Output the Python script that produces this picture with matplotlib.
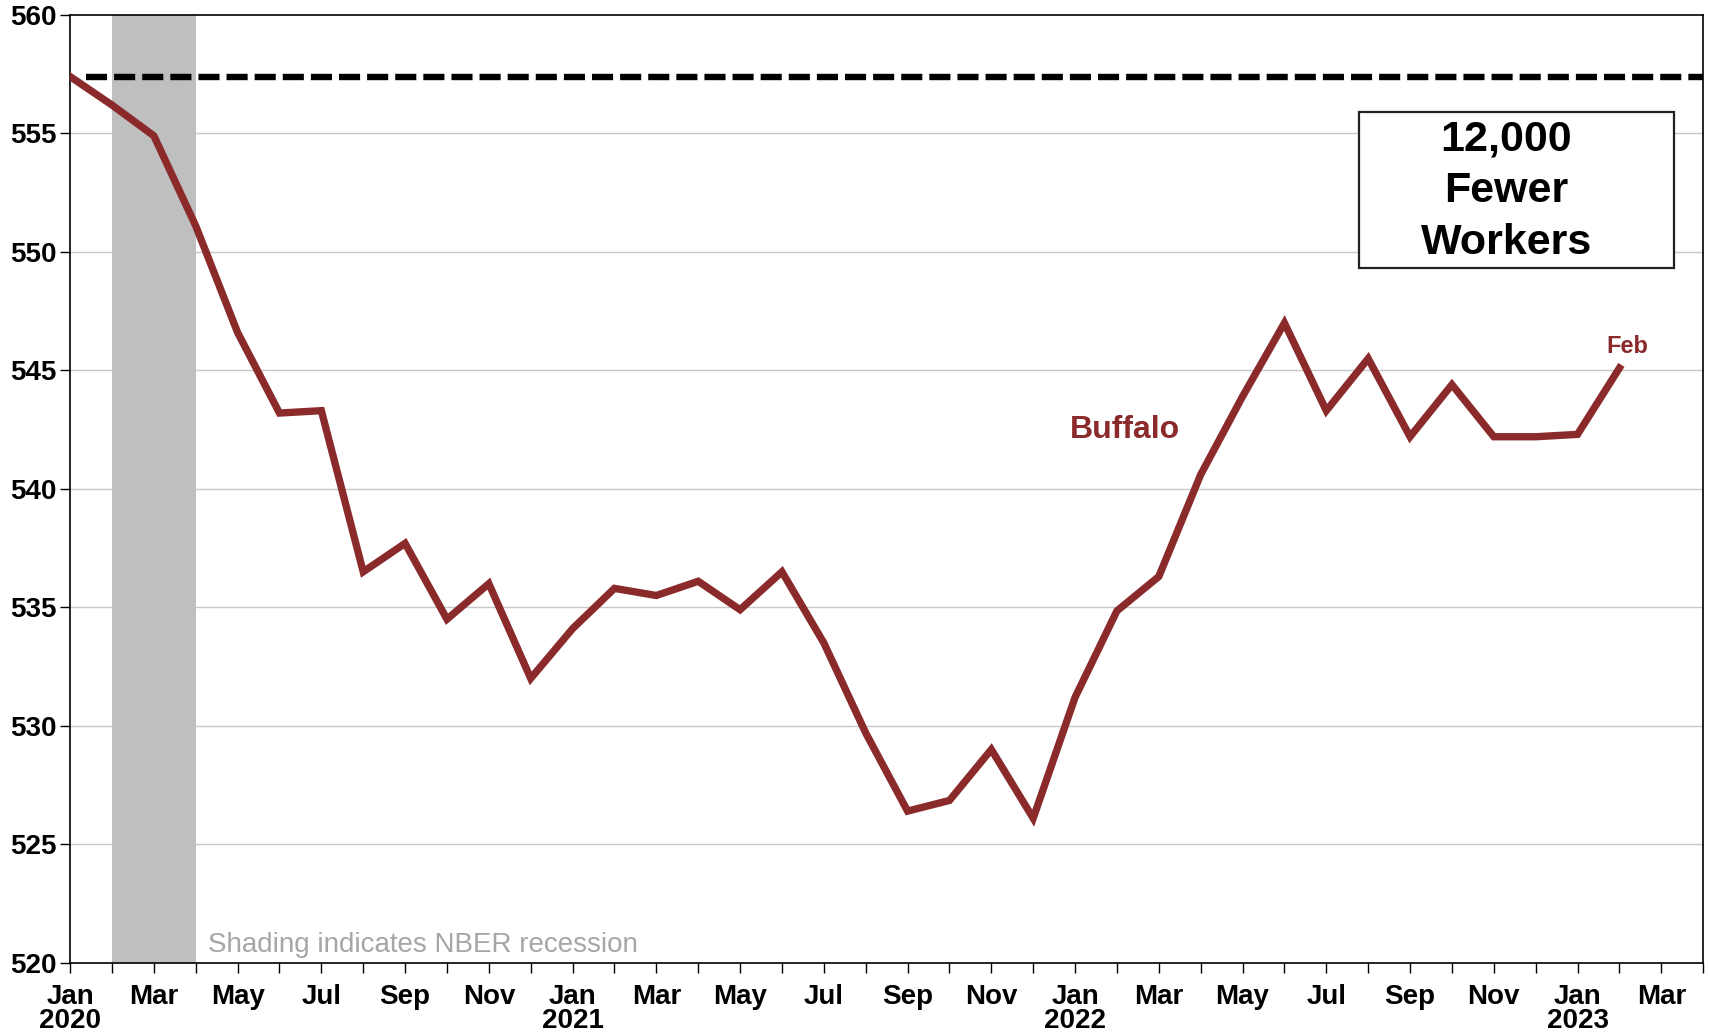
import matplotlib.pyplot as plt
from matplotlib.patches import Rectangle
import numpy as np

plt.rcParams['font.family'] = ['Liberation Sans', 'DejaVu Sans']

# Buffalo nonfarm employment, thousands, Jan 2020 - Feb 2023
months = ['2020-01', '2020-02', '2020-03', '2020-04', '2020-05', '2020-06',
          '2020-07', '2020-08', '2020-09', '2020-10', '2020-11', '2020-12',
          '2021-01', '2021-02', '2021-03', '2021-04', '2021-05', '2021-06',
          '2021-07', '2021-08', '2021-09', '2021-10', '2021-11', '2021-12',
          '2022-01', '2022-02', '2022-03', '2022-04', '2022-05', '2022-06',
          '2022-07', '2022-08', '2022-09', '2022-10', '2022-11', '2022-12',
          '2023-01', '2023-02']
buffalo = [557.4, 556.2, 554.9, 551.1, 546.6, 543.2,
           543.3, 536.5, 537.7, 534.5, 536.0, 532.0,
           534.1, 535.8, 535.5, 536.1, 534.9, 536.5,
           533.5, 529.7, 526.4, 526.85, 529.0, 526.1,
           531.2, 534.85, 536.3, 540.6, 543.9, 547.0,
           543.3, 545.5, 542.2, 544.4, 542.2, 542.2,
           542.3, 545.1]
pre_pandemic = 557.4
recession = (1, 3)  # Feb 2020 to Apr 2020, month index

tick_labels = ['Jan\n2020', 'Mar', 'May', 'Jul', 'Sep', 'Nov',
               'Jan\n2021', 'Mar', 'May', 'Jul', 'Sep', 'Nov',
               'Jan\n2022', 'Mar', 'May', 'Jul', 'Sep', 'Nov',
               'Jan\n2023', 'Mar']

red = '#8b2a2a'
x = np.arange(len(months))

fig = plt.figure(figsize=(17.1, 10.33), dpi=100)
ax = fig.add_axes([0.041, 0.068, 0.955, 0.9175])

ax.axvspan(recession[0], recession[1], color='#bfbfbf', lw=0, zorder=1)
for yv in range(525, 560, 5):
    ax.axhline(yv, color='#c8c8c8', lw=1.0, zorder=0)

ax.plot([0.38, 39], [pre_pandemic, pre_pandemic], color='black', lw=4.6,
        dashes=(3.3, 1.1), zorder=3)
ax.plot(x, buffalo, color=red, lw=5.3, solid_joinstyle='miter', zorder=4)

ax.text(25.2, 542.5, 'Buffalo', color=red, fontsize=23, fontweight='bold',
        ha='center', va='center')
ax.text(37.2, 546.0, 'Feb', color=red, fontsize=17, fontweight='bold',
        ha='center', va='center')
ax.text(3.3, 520.75, 'Shading indicates NBER recession', color='#a6a6a6',
        fontsize=20, ha='left', va='center')

# callout box in the upper right
ax.add_patch(Rectangle((0.789, 0.7331), 0.193, 0.1646, transform=ax.transAxes,
                       fc='white', ec='#222222', lw=1.6, zorder=5))
ax.text(0.8794, 0.8143, '12,000\nFewer\nWorkers', transform=ax.transAxes,
        fontsize=31, fontweight='bold', ha='center', va='center',
        linespacing=1.38, zorder=6)

ax.set_xlim(0, 39)
ax.set_ylim(520, 560)
ax.set_yticks(range(520, 561, 5))
ax.set_xticks(np.arange(0, 39, 2))
ax.set_xticks(np.arange(0, 40, 1), minor=True)
ax.set_xticklabels(tick_labels, fontsize=20, fontweight='bold', linespacing=0.9)
for lab in ax.get_yticklabels():
    lab.set_fontsize(20)
    lab.set_fontweight('bold')
ax.tick_params(axis='both', which='both', direction='out', length=7,
               width=1.0, color='black')
ax.tick_params(axis='x', pad=8)
ax.tick_params(axis='y', pad=3)
for s in ax.spines.values():
    s.set_linewidth(1.2)

fig.savefig('out.png', dpi=100)
